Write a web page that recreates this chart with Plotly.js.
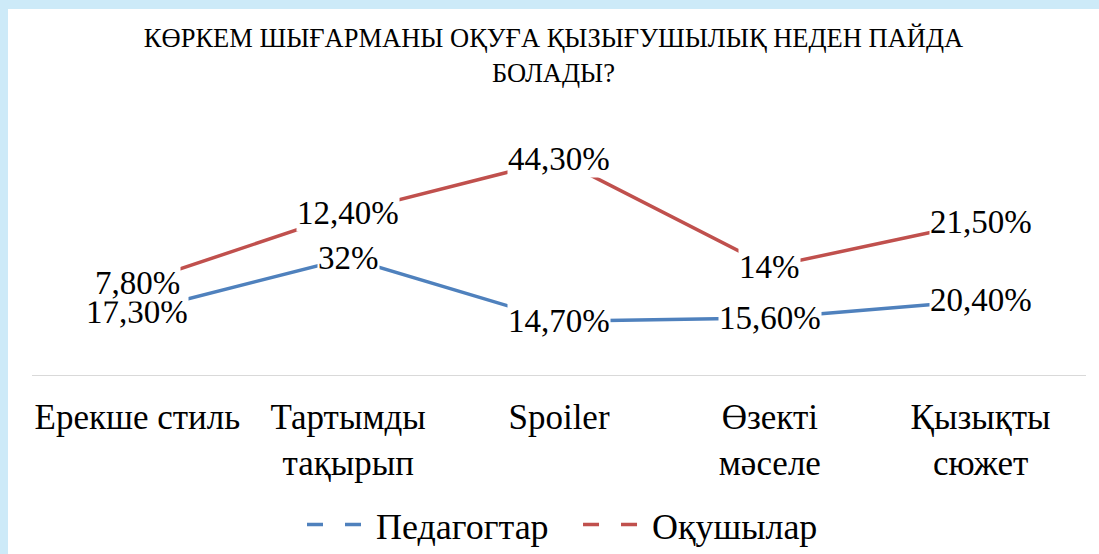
<!DOCTYPE html>
<html>
<head>
<meta charset="utf-8">
<script src="https://cdn.plot.ly/plotly-3.0.1.min.js"></script>
<style>
  html, body { margin: 0; padding: 0; width: 1099px; height: 554px; background: #cdeaf8; overflow: hidden; }
  #chart { position: absolute; left: 8px; top: 9px; width: 1091px; height: 545px; background: #ffffff; }
</style>
</head>
<body>
<div id="chart"></div>
<script>
var categories = ["Ерекше стиль", "Тартымды<br>тақырып", "Spoiler", "Өзекті<br>мәселе", "Қызықты<br>сюжет"];
var seriesNames = ["Педагогтар", "Оқушылар"];
var pedagogtar = [17.3, 32, 14.7, 15.6, 20.4];
var okushylar = [7.8, 12.4, 44.3, 14, 21.5];
var colors = ["#4F81BD", "#C0504D"];
var titleText = "КӨРКЕМ ШЫҒАРМАНЫ ОҚУҒА ҚЫЗЫҒУШЫЛЫҚ НЕДЕН ПАЙДА<br>БОЛАДЫ?";

var FONT = "Liberation Serif, Times New Roman, serif";
var series = [pedagogtar, okushylar];

function fmt(v) {
  if (Math.round(v) === v) return v + "%";
  return v.toFixed(2).replace(".", ",") + "%";
}

var traces = [];
series.forEach(function (vals, i) {
  traces.push({
    type: "scatter", mode: "lines", x: categories, y: vals,
    stackgroup: "one", fill: "none",
    line: { color: colors[i], width: 3.5 },
    name: seriesNames[i], showlegend: false, hoverinfo: "skip"
  });
});
series.forEach(function (vals, i) {
  traces.push({
    type: "scatter", mode: "lines", x: [categories[0]], y: [null],
    line: { color: colors[i], width: 3.5, dash: "16px,22px" },
    name: seriesNames[i], showlegend: true
  });
});

var annotations = [];
var order = [0, 1];
order.forEach(function (i) {
  series[i].forEach(function (v, k) {
    var cum = 0;
    for (var j = 0; j <= i; j++) cum += series[j][k];
    annotations.push({
      x: categories[k], y: cum, xref: "x", yref: "y",
      text: fmt(v), showarrow: false, bgcolor: "#ffffff", borderpad: 0,
      font: { family: FONT, size: 33, color: "#000000" }
    });
  });
});

var layout = {
  width: 1091, height: 545,
  margin: { l: 24, r: 13, t: 110, b: 179, autoexpand: false },
  paper_bgcolor: "#ffffff", plot_bgcolor: "#ffffff",
  title: {
    text: titleText, x: 0.5, xanchor: "center", y: 0.93, yanchor: "top",
    font: { family: FONT, size: 26.5, color: "#000000" }
  },
  xaxis: {
    type: "category", range: [-0.5, 4.5], automargin: false,
    showgrid: false, zeroline: false,
    showline: true, linecolor: "#d9d9d9", linewidth: 1,
    ticks: "", ticklabelstandoff: 11,
    tickfont: { family: FONT, size: 35, color: "#000000" },
    fixedrange: true
  },
  yaxis: {
    range: [0, 70], automargin: false, showgrid: false, zeroline: false, showline: false,
    showticklabels: false, ticks: "", fixedrange: true
  },
  showlegend: true,
  legend: {
    orientation: "h", x: 0.2695, xanchor: "left", xref: "container",
    y: 0.054, yanchor: "middle", yref: "container",
    font: { family: FONT, size: 36, color: "#000000" },
    itemwidth: 64, entrywidth: 197, entrywidthmode: "pixels",
    bgcolor: "rgba(0,0,0,0)"
  },
  annotations: annotations
};

Plotly.newPlot("chart", traces, layout, { displayModeBar: false, staticPlot: true });
</script>
</body>
</html>
